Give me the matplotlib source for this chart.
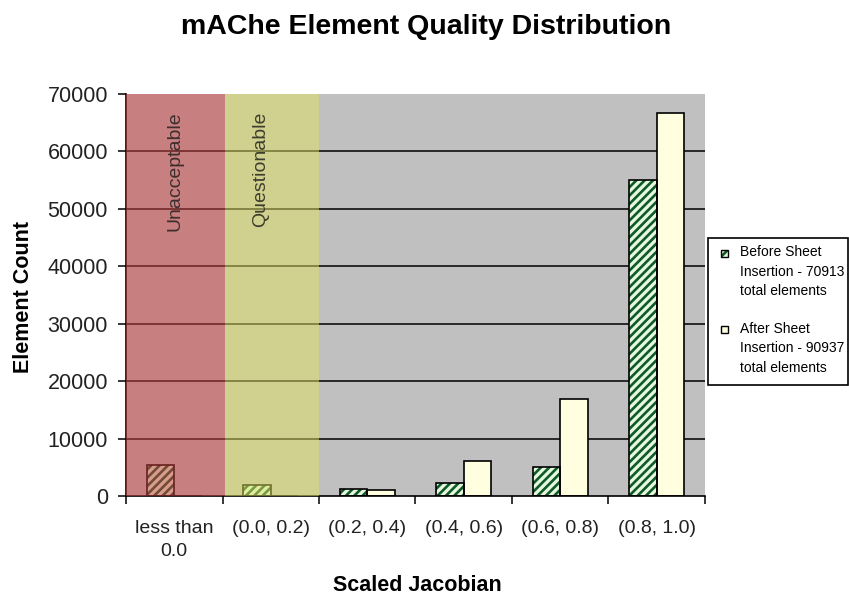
import matplotlib
matplotlib.use("Agg")
import matplotlib.pyplot as plt
from matplotlib.patches import Rectangle
import numpy as np

plt.rcParams['font.family'] = ['Liberation Sans', 'DejaVu Sans']
plt.rcParams['hatch.linewidth'] = 1.9

categories = ["less than\n0.0", "(0.0, 0.2)", "(0.2, 0.4)", "(0.4, 0.6)", "(0.6, 0.8)", "(0.8, 1.0)"]
before = [5400, 2000, 1300, 2300, 5100, 55000]
after = [0, 0, 1100, 6100, 16900, 66700]
before_label = "Before Sheet\nInsertion - 70913\ntotal elements"
after_label = "After Sheet\nInsertion - 90937\ntotal elements"
yticks = [0, 10000, 20000, 30000, 40000, 50000, 60000, 70000]

fig = plt.figure(figsize=(8.49, 5.98), dpi=100)
ax = fig.add_axes([126/849, 1-496/598, 579/849, 402/598])
ax.set_facecolor('#C0C0C0')

x = np.arange(len(categories))
w = 0.286
before_face = '#E6F8E0'
before_hatch = '#0F5A26'
after_face = '#FFFFE0'
ax.bar(x - w/2, before, w, facecolor=before_face, edgecolor=before_hatch, hatch='////',
       linewidth=0, zorder=2)
ax.bar(x - w/2, before, w, facecolor='none', edgecolor='black', linewidth=1.2, zorder=2.1)
ax.bar(x + w/2, after, w, facecolor=after_face, edgecolor='black', linewidth=1.2, zorder=2)

ax.set_xlim(-0.5, 5.5)
ax.set_ylim(0, 70000)
for yv in yticks[1:-1]:
    ax.axhline(yv, color='black', linewidth=1.1, zorder=1.5)

# shaded quality regions
ax.axvspan(-0.5, 0.53, color='#D04040', alpha=0.5, linewidth=0, zorder=3)
ax.axvspan(0.53, 1.5, color='#E0E060', alpha=0.5, linewidth=0, zorder=3)
ax.text(0.01, 66900, "Unacceptable", rotation=90, ha='center', va='top',
        fontsize=14, color='#3E2E2E', zorder=4)
ax.text(0.89, 66900, "Questionable", rotation=90, ha='center', va='top',
        fontsize=14, color='#3E3E2E', zorder=4)

for s in ['top', 'right']:
    ax.spines[s].set_visible(False)
ax.spines['left'].set_linewidth(1.2)
ax.spines['bottom'].set_linewidth(1.2)

ax.set_yticks(yticks)
ax.set_yticklabels([str(v) for v in yticks], fontsize=15.5, color='#222222')
ax.tick_params(axis='y', length=6, width=1.1, pad=7, direction='out')

ax.set_xticks(x)
ax.set_xticklabels(categories, fontsize=14, color='#222222', linespacing=1.5)
ax.tick_params(axis='x', which='major', length=0, pad=17)
ax.set_xticks(np.arange(-0.5, 6.0, 1.0), minor=True)
ax.tick_params(axis='x', which='minor', length=6, width=1.1, direction='out')

fig.text(426/849, 1-34/598, "mAChe Element Quality Distribution", ha='center', va='baseline',
         fontsize=20.5, fontweight='bold')
fig.text(417/849, 1-591/598, "Scaled Jacobian", ha='center', va='baseline',
         fontsize=15.5, fontweight='bold')
fig.text(24/849, 1-297/598, "Element Count", ha='center', va='center', rotation=90,
         fontsize=15.5, fontweight='bold')

# legend box
fig.patches.append(Rectangle((708/849, 1-385/598), 140/849, 147/598, transform=fig.transFigure,
                             facecolor='white', edgecolor='black', linewidth=1.2))
fig.patches.append(Rectangle((721/849, 1-257/598), 7/849, 7/598, transform=fig.transFigure,
                             facecolor=before_face, edgecolor=before_hatch, hatch='///', linewidth=0))
fig.patches.append(Rectangle((721/849, 1-257/598), 7/849, 7/598, transform=fig.transFigure,
                             facecolor='none', edgecolor='black', linewidth=1.0))
fig.patches.append(Rectangle((721/849, 1-333/598), 7/849, 7/598, transform=fig.transFigure,
                             facecolor=after_face, edgecolor='black', linewidth=1.0))
fig.text(740/849, 1-245/598, before_label, ha='left', va='top', fontsize=10, linespacing=1.5)
fig.text(740/849, 1-322/598, after_label, ha='left', va='top', fontsize=10, linespacing=1.5)

fig.savefig("out.png", dpi=100)
